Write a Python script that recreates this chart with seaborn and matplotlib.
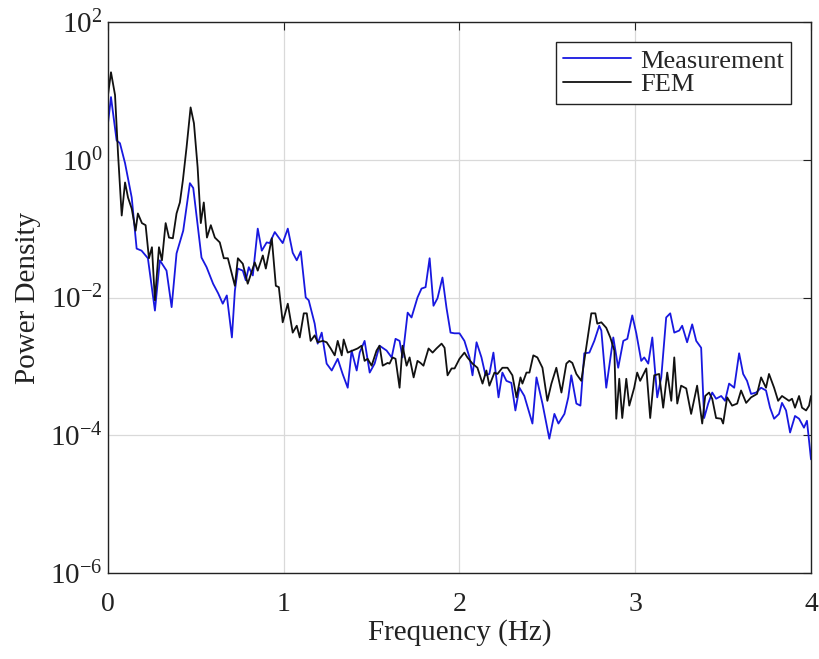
import numpy as np
import pandas as pd
import matplotlib
matplotlib.use("Agg")
import matplotlib.pyplot as plt
import seaborn as sns
from matplotlib.ticker import LogFormatterMathtext, NullLocator

# ---- data (frequency in Hz, log10 of power density) ----
meas_freq = [0.0, 0.017, 0.049, 0.068, 0.097, 0.135, 0.163, 0.191, 0.227, 0.267,
             0.295, 0.333, 0.362, 0.390, 0.428, 0.466, 0.485, 0.532, 0.561, 0.598,
             0.627, 0.653, 0.676, 0.705, 0.722, 0.739, 0.767, 0.784, 0.801, 0.824,
             0.852, 0.875, 0.903, 0.920, 0.949, 0.994, 1.023, 1.051, 1.074, 1.097,
             1.125, 1.142, 1.176, 1.193, 1.216, 1.244, 1.273, 1.307, 1.335, 1.364,
             1.386, 1.415, 1.432, 1.460, 1.489, 1.517, 1.545, 1.585, 1.614, 1.636,
             1.659, 1.676, 1.705, 1.727, 1.761, 1.784, 1.807, 1.830, 1.852, 1.875,
             1.903, 1.926, 1.949, 1.972, 2.000, 2.028, 2.057, 2.074, 2.097, 2.125,
             2.148, 2.170, 2.193, 2.222, 2.244, 2.267, 2.295, 2.318, 2.341, 2.369,
             2.415, 2.438, 2.472, 2.511, 2.540, 2.563, 2.597, 2.619, 2.636, 2.665,
             2.688, 2.710, 2.739, 2.767, 2.795, 2.807, 2.835, 2.875, 2.903, 2.932,
             2.955, 2.983, 3.006, 3.034, 3.051, 3.074, 3.097, 3.125, 3.148, 3.176,
             3.199, 3.222, 3.250, 3.267, 3.295, 3.324, 3.347, 3.375, 3.392, 3.415,
             3.438, 3.460, 3.489, 3.511, 3.534, 3.563, 3.591, 3.614, 3.636, 3.659,
             3.688, 3.716, 3.744, 3.767, 3.790, 3.818, 3.835, 3.858, 3.881, 3.909,
             3.932, 3.960, 3.977, 4.000]
meas_log10 = [0.53, 0.91, 0.28, 0.24, -0.05, -0.55, -1.29, -1.32, -1.43, -2.19,
              -1.46, -1.61, -2.14, -1.36, -1.03, -0.34, -0.41, -1.42, -1.56, -1.80,
              -1.94, -2.09, -1.97, -2.58, -1.90, -1.58, -1.61, -1.75, -1.56, -1.68,
              -1.00, -1.32, -1.20, -1.21, -1.05, -1.21, -1.00, -1.35, -1.46, -1.33,
              -2.00, -2.04, -2.38, -2.67, -2.51, -2.96, -3.06, -2.89, -3.11, -3.31,
              -2.77, -3.06, -2.80, -2.63, -3.09, -2.96, -2.70, -2.77, -2.87, -2.60,
              -2.63, -2.87, -2.22, -2.29, -2.00, -1.87, -1.85, -1.43, -2.12, -2.01,
              -1.71, -2.15, -2.51, -2.52, -2.52, -2.63, -2.87, -3.13, -2.65, -2.87,
              -3.13, -3.11, -2.80, -3.45, -3.09, -3.21, -3.24, -3.64, -3.31, -3.43,
              -3.83, -3.16, -3.54, -4.05, -3.69, -3.83, -3.69, -3.45, -3.13, -3.54,
              -3.57, -2.81, -2.80, -2.63, -2.41, -2.48, -3.31, -2.58, -3.02, -2.63,
              -2.60, -2.26, -2.52, -2.92, -2.87, -2.96, -2.58, -3.45, -3.16, -2.29,
              -2.23, -2.51, -2.48, -2.41, -2.65, -2.39, -2.63, -2.73, -3.75, -3.54,
              -3.38, -3.47, -3.43, -3.50, -3.25, -3.31, -2.81, -3.11, -3.21, -3.40,
              -3.38, -3.31, -3.35, -3.60, -3.76, -3.69, -3.53, -3.64, -3.96, -3.72,
              -3.76, -3.89, -3.79, -4.35]

fem_freq = [0.0, 0.017, 0.040, 0.057, 0.078, 0.097, 0.114, 0.135, 0.157, 0.170,
            0.193, 0.214, 0.233, 0.250, 0.267, 0.290, 0.307, 0.328, 0.347, 0.369,
            0.390, 0.409, 0.426, 0.447, 0.470, 0.489, 0.510, 0.528, 0.545, 0.563,
            0.585, 0.608, 0.636, 0.659, 0.682, 0.722, 0.739, 0.767, 0.795, 0.835,
            0.852, 0.881, 0.898, 0.932, 0.955, 0.972, 0.994, 1.023, 1.051, 1.074,
            1.091, 1.114, 1.131, 1.153, 1.176, 1.193, 1.222, 1.244, 1.267, 1.290,
            1.307, 1.330, 1.341, 1.364, 1.392, 1.420, 1.443, 1.460, 1.477, 1.500,
            1.528, 1.545, 1.563, 1.591, 1.602, 1.619, 1.636, 1.659, 1.676, 1.699,
            1.716, 1.739, 1.761, 1.778, 1.795, 1.824, 1.847, 1.869, 1.898, 1.915,
            1.932, 1.955, 1.972, 2.000, 2.028, 2.045, 2.074, 2.102, 2.131, 2.153,
            2.170, 2.199, 2.216, 2.244, 2.273, 2.301, 2.324, 2.347, 2.358, 2.381,
            2.398, 2.420, 2.443, 2.472, 2.500, 2.523, 2.551, 2.580, 2.608, 2.625,
            2.642, 2.665, 2.693, 2.727, 2.750, 2.773, 2.784, 2.807, 2.835, 2.858,
            2.881, 2.892, 2.909, 2.926, 2.949, 2.966, 2.994, 3.011, 3.028, 3.063,
            3.085, 3.108, 3.136, 3.159, 3.182, 3.205, 3.222, 3.239, 3.261, 3.290,
            3.318, 3.352, 3.381, 3.398, 3.420, 3.438, 3.460, 3.489, 3.500, 3.523,
            3.551, 3.580, 3.602, 3.631, 3.659, 3.693, 3.716, 3.744, 3.761, 3.790,
            3.813, 3.835, 3.858, 3.875, 3.892, 3.909, 3.932, 3.949, 3.972, 3.989,
            4.000]
fem_log10 = [0.94, 1.27, 0.94, 0.09, -0.81, -0.33, -0.55, -0.71, -1.03, -0.78,
             -0.92, -0.95, -1.43, -1.27, -2.04, -1.27, -1.46, -0.92, -1.13, -1.14,
             -0.78, -0.62, -0.30, 0.18, 0.76, 0.53, -0.11, -0.92, -0.62, -1.13,
             -0.95, -1.13, -1.20, -1.43, -1.43, -1.83, -1.43, -1.51, -1.80, -1.49,
             -1.61, -1.39, -1.58, -1.14, -1.83, -1.85, -2.36, -2.09, -2.51, -2.41,
             -2.58, -2.23, -2.23, -2.63, -2.55, -2.65, -2.63, -2.65, -2.74, -2.84,
             -2.63, -2.84, -2.61, -2.80, -2.77, -2.74, -2.70, -2.92, -2.89, -2.99,
             -2.77, -2.70, -2.99, -2.95, -2.96, -2.87, -2.89, -3.31, -2.70, -2.99,
             -2.87, -3.16, -2.92, -2.95, -2.99, -2.74, -2.80, -2.74, -2.67, -2.73,
             -3.13, -3.03, -3.03, -2.89, -2.80, -2.87, -2.96, -3.02, -3.25, -3.06,
             -3.28, -3.09, -3.11, -3.02, -3.02, -3.13, -3.45, -3.16, -3.25, -3.09,
             -3.09, -2.84, -2.87, -3.02, -3.50, -3.25, -3.02, -3.38, -2.96, -2.92,
             -2.95, -3.11, -3.21, -2.63, -2.23, -2.23, -2.38, -2.36, -2.44, -2.58,
             -2.77, -3.76, -3.18, -3.75, -3.18, -3.57, -3.31, -3.09, -3.21, -3.03,
             -3.75, -3.13, -3.11, -3.60, -3.09, -3.50, -2.87, -3.54, -3.28, -3.32,
             -3.69, -3.28, -3.83, -3.43, -3.38, -3.47, -3.75, -3.76, -3.83, -3.45,
             -3.57, -3.54, -3.35, -3.53, -3.45, -3.40, -3.16, -3.31, -3.11, -3.31,
             -3.50, -3.43, -3.47, -3.50, -3.47, -3.60, -3.43, -3.60, -3.64, -3.57,
             -3.43]

series_names = ["Measurement", "FEM"]
series_colors = ["#1818e0", "#111111"]
xticks = [0, 1, 2, 3, 4]
yticks = [1e-6, 1e-4, 1e-2, 1e0, 1e2]
x_label = "Frequency (Hz)"
y_label = "Power Density"

df = pd.concat([
    pd.DataFrame({"Frequency": meas_freq, "Power": 10 ** np.array(meas_log10),
                  "Series": series_names[0]}),
    pd.DataFrame({"Frequency": fem_freq, "Power": 10 ** np.array(fem_log10),
                  "Series": series_names[1]}),
], ignore_index=True)

sns.set_theme(style="white")
plt.rcParams["font.family"] = ["Liberation Serif", "DejaVu Serif"]
plt.rcParams["mathtext.fontset"] = "stix"

fig = plt.figure(figsize=(8.2, 6.59), dpi=100)
ax = fig.add_axes([108 / 820, 1 - 573 / 659, (811 - 108) / 820, (573 - 22) / 659])

sns.lineplot(data=df, x="Frequency", y="Power", hue="Series",
             hue_order=series_names, palette=series_colors,
             estimator=None, sort=False, linewidth=1.3, ax=ax)

ax.set_yscale("log")
ax.set_xlim(0, 4)
ax.set_ylim(1e-6, 1e2)
ax.set_xticks(xticks)
ax.set_xticklabels([str(t) for t in xticks])
ax.set_yticks(yticks)
ax.yaxis.set_major_formatter(LogFormatterMathtext())
ax.yaxis.set_minor_locator(NullLocator())
ax.xaxis.set_minor_locator(NullLocator())

ax.grid(True, which="major", color="#d9d9d9", linewidth=0.9)
ax.tick_params(axis="both", which="major", direction="in", length=6,
               width=0.8, top=True, right=True, labelsize=20, colors="#222222")
ax.tick_params(axis="x", pad=14)
ax.tick_params(axis="y", pad=4, labelsize=21)
for sp in ax.spines.values():
    sp.set_color("#222222")
    sp.set_linewidth(1.0)

ax.set_xlabel(x_label, fontsize=21, color="#222222", labelpad=1)
ax.set_ylabel(y_label, fontsize=21, color="#222222", labelpad=6)

leg = ax.legend(loc="upper right", fontsize=19, frameon=True, fancybox=False,
                edgecolor="#222222", framealpha=1, handlelength=2.55,
                handletextpad=0.35, borderpad=0.28, labelspacing=0.0,
                borderaxespad=0.75)
leg.get_frame().set_linewidth(1.0)
for line in leg.get_lines():
    line.set_linewidth(1.3)

fig.savefig("out.png", dpi=100)
